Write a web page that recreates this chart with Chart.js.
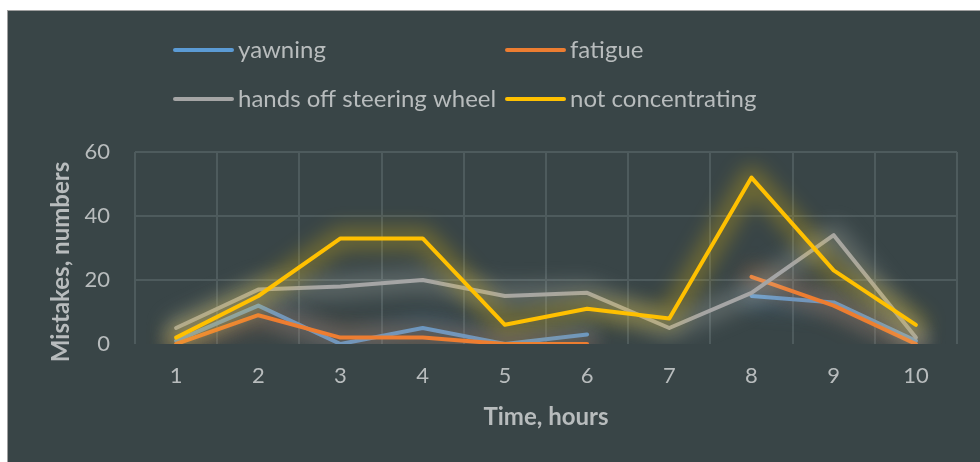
<!DOCTYPE html>
<html><head><meta charset="utf-8">
<script src="https://cdn.jsdelivr.net/npm/chart.js@4.4.1/dist/chart.umd.min.js"></script>
<style>
html,body{margin:0;padding:0;background:#ffffff;width:980px;height:462px;overflow:hidden;}
#frame{position:absolute;left:7px;top:10px;width:973px;height:452px;background:#394547;border-left:1px solid #a0a0a0;border-top:1px solid #a0a0a0;box-sizing:border-box;}
#c{position:absolute;left:0;top:0;}
</style></head>
<body>
<div id="frame"></div>
<canvas id="c" width="980" height="462"></canvas>
<script>
// ---- data ----
const hours = ['1','2','3','4','5','6','7','8','9','10'];
const seriesNames = ['yawning','fatigue','hands off steering wheel','not concentrating'];
const yawning = [1,12,0,5,0,3,null,15,13,1];
const fatigue = [0,9,2,2,0,0,null,21,12,0];
const handsOff = [5,17,18,20,15,16,5,16,34,2];
const notConcentrating = [2,15,33,33,6,11,8,52,23,6];
const yTickValues = [0,20,40,60];
const xTitle = 'Time, hours';
const yTitle = 'Mistakes, numbers';

// ---- styles ----
const colors = ['#5B9BD5','#ED7D31','#A5A5A5','#FFC000'];
const glowColors = ['rgba(91,155,213,0.26)','rgba(237,125,49,0.24)','rgba(205,210,200,0.26)','rgba(255,205,0,0.28)'];
const textColor = '#b8bcbd';
const gridColor = '#4e5b5d';
const FONT = 'Lato';

const seriesData = [yawning, fatigue, handsOff, notConcentrating];

const glowPlugin = {
  id: 'glow',
  beforeDatasetDraw(chart, args) {
    const ctx = chart.ctx, area = chart.chartArea;
    const meta = args.meta;
    const i = args.index;
    ctx.save();
    ctx.beginPath();
    ctx.rect(area.left, area.top - 40, area.right - area.left, area.bottom - area.top + 40);
    ctx.clip();
    ctx.filter = 'blur(10px)';
    ctx.strokeStyle = glowColors[i];
    ctx.lineWidth = 22;
    ctx.lineJoin = 'round';
    ctx.lineCap = 'round';
    ctx.beginPath();
    let pen = false;
    meta.data.forEach(p => {
      if (p.skip) { pen = false; return; }
      if (!pen) { ctx.moveTo(p.x, p.y); pen = true; } else { ctx.lineTo(p.x, p.y); }
    });
    ctx.stroke();
    ctx.restore();
  }
};

const legendPlugin = {
  id: 'customLegend',
  afterDraw(chart) {
    const ctx = chart.ctx;
    const pos = [[173,50],[505,50],[173,99],[505,99]];
    ctx.save();
    ctx.font = '24px ' + FONT;
    ctx.textBaseline = 'alphabetic';
    ctx.textAlign = 'left';
    seriesNames.forEach((name, i) => {
      const [x, y] = pos[i];
      ctx.strokeStyle = colors[i];
      ctx.lineWidth = 4;
      ctx.lineCap = 'round';
      ctx.beginPath();
      ctx.moveTo(x + 2, y);
      ctx.lineTo(x + 59, y);
      ctx.stroke();
      ctx.fillStyle = textColor;
      ctx.fillText(name, x + 65, y + 8);
    });
    ctx.restore();
  }
};

const yTitlePlugin = {
  id: 'yTitle',
  afterDraw(chart) {
    const ctx = chart.ctx;
    ctx.save();
    ctx.translate(61, 262);
    ctx.rotate(-Math.PI / 2);
    ctx.font = 'bold 24px ' + FONT;
    ctx.fillStyle = textColor;
    ctx.textAlign = 'center';
    ctx.textBaseline = 'middle';
    ctx.fillText(yTitle, 0, 0);
    ctx.restore();
  }
};

const orders = [4,3,2,1];
new Chart(document.getElementById('c'), {
  type: 'line',
  data: {
    labels: hours,
    datasets: seriesData.map((d, i) => ({
      label: seriesNames[i],
      data: d,
      borderColor: colors[i],
      backgroundColor: colors[i],
      borderWidth: 4,
      pointRadius: 0,
      tension: 0,
      spanGaps: false,
      borderCapStyle: 'round',
      borderJoinStyle: 'round',
      order: orders[i]
    }))
  },
  options: {
    responsive: false,
    animation: false,
    devicePixelRatio: 1,
    layout: { padding: { top: 152, right: 23, bottom: 0, left: 0 } },
    plugins: { legend: { display: false }, tooltip: { enabled: false } },
    scales: {
      x: {
        offset: true,
        grid: { color: gridColor, lineWidth: 2, drawTicks: false, offset: true },
        border: { display: false },
        ticks: { color: textColor, font: { family: FONT, size: 22 }, padding: 19 },
        title: { display: true, text: xTitle, color: textColor, font: { family: FONT, size: 24, weight: 'bold' }, padding: { top: 0, bottom: 30 } },
        afterFit(s) { s.height = 118; }
      },
      y: {
        min: 0, max: 60,
        afterBuildTicks(s) { s.ticks = yTickValues.map(v => ({ value: v })); },
        grid: { color: c => (c.tick && c.tick.value === 0) ? 'rgba(0,0,0,0)' : gridColor, lineWidth: 2, drawTicks: false },
        border: { display: false },
        ticks: { color: textColor, font: { family: FONT, size: 22 }, padding: 25 },
        afterFit(s) { s.width = 135; }
      }
    }
  },
  plugins: [glowPlugin, legendPlugin, yTitlePlugin]
});
</script>
</body></html>
